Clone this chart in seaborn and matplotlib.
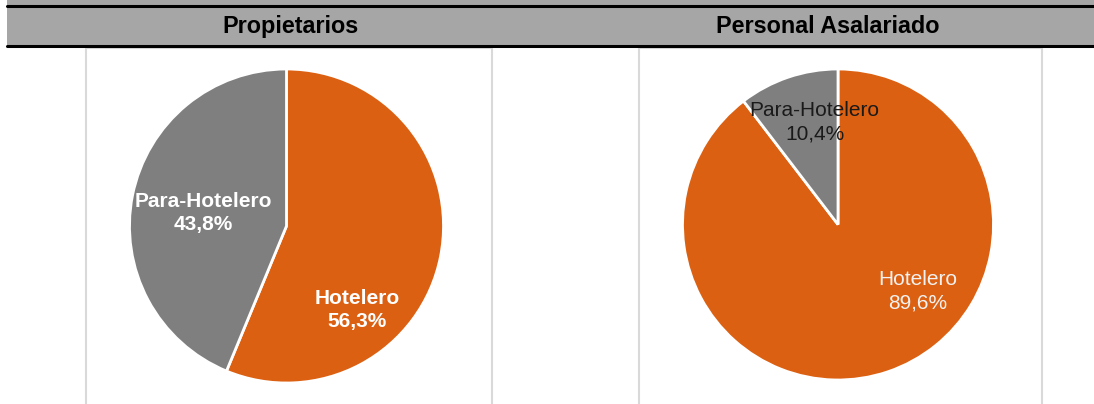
import matplotlib.pyplot as plt
import seaborn as sns
from matplotlib.patches import Rectangle
from matplotlib.lines import Line2D

# data
categories = ["Hotelero", "Para-Hotelero"]
propietarios = [56.3, 43.8]
asalariados = [89.6, 10.4]
titles = ["Propietarios", "Personal Asalariado"]

sns.set_theme(style="white")
plt.rcParams["font.family"] = ["Liberation Sans", "DejaVu Sans"]

colors = ["#DC6011", "#7F7F7F"]

W, H = 1094, 404
fig = plt.figure(figsize=(W / 100, H / 100), dpi=100)


def fx(px):
    return px / W


def fy(py):
    return 1 - py / H


# header band
fig.patches.append(Rectangle((fx(7), fy(46)), fx(W - 7), 46 / H, transform=fig.transFigure,
                             facecolor="#A6A6A6", edgecolor="none", zorder=-2))
for yy in (6, 46):
    fig.lines.append(Line2D([fx(7), 1], [fy(yy), fy(yy)], transform=fig.transFigure,
                            color="black", lw=2.2, zorder=-1))

# chart boxes
for x0, x1 in ((86, 492), (639, 1042)):
    fig.patches.append(Rectangle((fx(x0), fy(420)), fx(x1 - x0), 372 / H, transform=fig.transFigure,
                                 facecolor="white", edgecolor="#D9D9D9", lw=1.5, zorder=-2))

fig.text(fx(290), fy(33), titles[0], ha="center", va="baseline", fontsize=16.8,
         fontweight="bold", color="black")
fig.text(fx(828), fy(33), titles[1], ha="center", va="baseline", fontsize=16.8,
         fontweight="bold", color="black")

# pie placement (center x, center y, radius in px) and label offsets
panels = [
    dict(vals=propietarios, cx=286.5, cy=226, r=157, weight="bold",
         pos=[(0.452, -0.535), (-0.532, 0.083)], tcol=["white", "white"]),
    dict(vals=asalariados, cx=838, cy=224.5, r=155.5, weight="normal",
         pos=[(0.511, -0.432), (-0.151, 0.659)], tcol=["#F2F2F2", "#1A1A1A"]),
]

for p in panels:
    ax = fig.add_axes([fx(p["cx"] - p["r"]), fy(p["cy"] + p["r"]), fx(2 * p["r"]), 2 * p["r"] / H])
    ax.pie(p["vals"], colors=colors, startangle=90, counterclock=False, radius=1,
           wedgeprops=dict(edgecolor="white", linewidth=2))
    ax.set_xlim(-1, 1)
    ax.set_ylim(-1, 1)
    ax.set_aspect("equal")
    ax.axis("off")
    for cat, v, (dx, dy), tc in zip(categories, p["vals"], p["pos"], p["tcol"]):
        lbl = f"{cat}\n{v:.1f}%".replace(".", ",")
        ax.text(dx, dy, lbl, ha="center", va="center", fontsize=15, color=tc,
                fontweight=p["weight"], linespacing=1.3)

plt.savefig("out.png", dpi=100)
